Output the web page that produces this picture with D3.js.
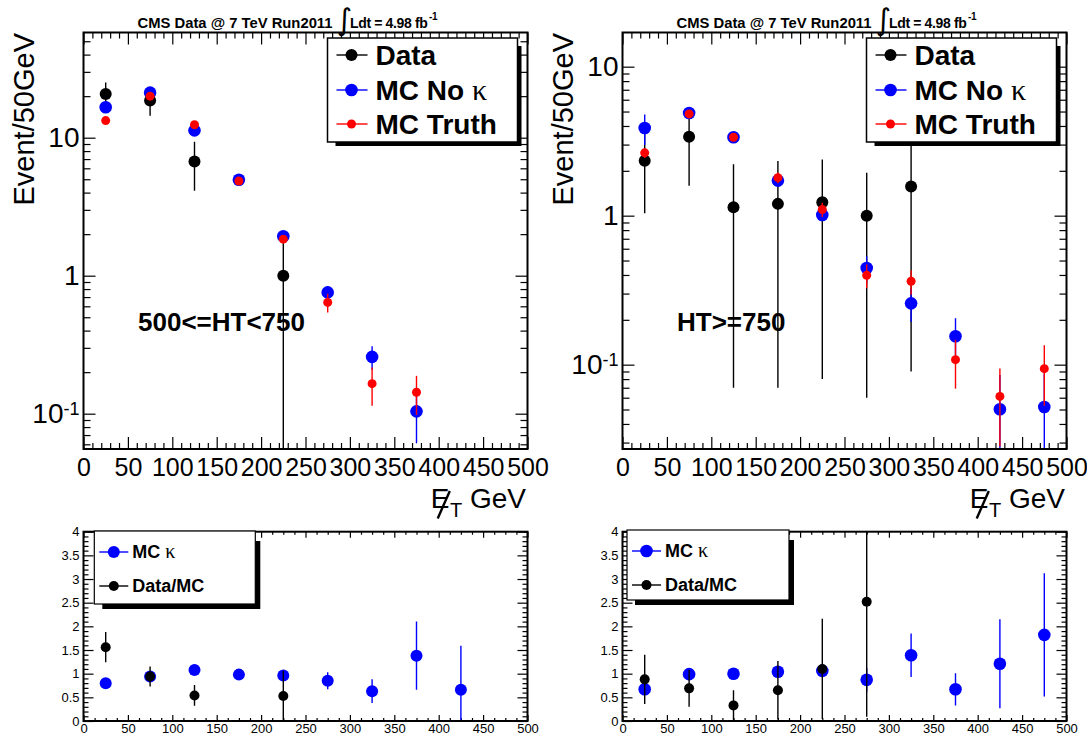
<!DOCTYPE html>
<html><head><meta charset="utf-8">
<script src="https://cdn.jsdelivr.net/npm/d3@7"></script>
<style>
body{margin:0;background:#fff;}
svg{display:block;font-family:"Liberation Sans",Arial,sans-serif;}
</style></head><body>
<svg id="c" width="1087" height="738"></svg>
<script>
// ---------------- DATA ----------------
const binCenters = [25, 75, 125, 175, 225, 275, 325, 375, 425, 475];
const xTickLabels = [0, 50, 100, 150, 200, 250, 300, 350, 400, 450, 500];
const ratioTickLabels = [0, 0.5, 1, 1.5, 2, 2.5, 3, 3.5, 4];
const logTickLabels = [0.1, 1, 10];

// Panel A : 500<=HT<750
const dataA       = [20.7, 18.6, 6.73, null, 1.0, null, null, null, null, null];
const dataAErr    = [4.4, 4.2, 2.6, null, 1.0, null, null, null, null, null];
const mcNoKA      = [16.6, 21.2, 11.3, 4.96, 1.93, 0.757, 0.258, 0.104, null, null];
const mcNoKAErr   = [0.8, 0.8, 0.5, 0.25, 0.12, 0.08, 0.05, 0.043, null, null];
const mcTruthA    = [13.3, 20.0, 12.4, 4.85, 1.84, 0.64, 0.165, 0.143, null, null];
const mcTruthAErr = [0.5, 0.6, 0.5, 0.2, 0.12, 0.1, 0.051, 0.045, null, null];

// Panel B : HT>=750
const dataB       = [2.34, 3.39, 1.14, 1.20, 1.23, 1.0, 1.57, null, null, null];
const dataBErr    = [1.3, 1.8, 1.07, 1.13, 1.15, 0.94, 1.48, null, null, null];
const mcNoKB      = [3.88, 4.89, 3.36, 1.72, 1.01, 0.445, 0.258, 0.155, 0.0502, 0.052];
const mcNoKBErr   = [0.9, 0.35, 0.1, 0.1, 0.08, 0.09, 0.065, 0.05, 0.035, 0.035];
const mcTruthB    = [2.64, 4.82, 3.36, 1.80, 1.10, 0.398, 0.363, 0.108, 0.0612, 0.094];
const mcTruthBErr = [0.2, 0.2, 0.15, 0.15, 0.12, 0.072, 0.068, 0.039, 0.033, 0.041];

// Ratio panels
const kappaA      = [0.80, 0.94, 1.08, 0.98, 0.96, 0.85, 0.63, 1.38, 0.66, null];
const kappaAErr   = [0.06, 0.08, 0.06, 0.05, 0.08, 0.18, 0.25, 0.72, 0.93, null];
const ratioA      = [1.56, 0.94, 0.54, null, 0.53, null, null, null, null, null];
const ratioAErr   = [0.32, 0.21, 0.22, null, 0.53, null, null, null, null, null];
const kappaB      = [0.67, 0.99, 1.0, 1.04, 1.06, 0.87, 1.39, 0.67, 1.21, 1.82];
const kappaBErr   = [0.1, 0.1, 0.05, 0.05, 0.05, 0.25, 0.46, 0.34, 0.94, 1.3];
const ratioB      = [0.88, 0.69, 0.33, 0.65, 1.10, 2.52, null, null, null, null];
const ratioBErr   = [0.52, 0.39, 0.32, 0.62, 1.06, 2.43, null, null, null, null];

const titleMain = "CMS Data @ 7 TeV Run2011";
const titleLumi = "Ldt = 4.98 fb";
const titleLumiExp = "-1";
const legendTop = ["Data", "MC No ", "MC Truth"];
const legendBottom = ["MC ", "Data/MC"];
const htLabels = ["500<=HT<750", "HT>=750"];

// ---------------- LAYOUT ----------------
const svg = d3.select("#c");
const BLUE = "#0000ff", RED = "#ff0000", BLACK = "#000000";

const topPanels = [
  {x0: 83.5, x1: 527.5, y0: 32.5, y1: 449, dom: [0.05548, 57.85], ht: htLabels[0],
   series: [[dataA, dataAErr, BLACK, 6], [mcNoKA, mcNoKAErr, BLUE, 6.3], [mcTruthA, mcTruthAErr, RED, 4.5]]},
  {x0: 622.5, x1: 1066.5, y0: 32.5, y1: 449, dom: [0.02716, 16.96], ht: htLabels[1],
   series: [[dataB, dataBErr, BLACK, 6], [mcNoKB, mcNoKBErr, BLUE, 6.3], [mcTruthB, mcTruthBErr, RED, 4.5]]}
];
const botPanels = [
  {x0: 83.5, x1: 527.5, y0: 531.7, y1: 721, leg: {x: 94.3, y: 531, w: 161, h: 73},
   series: [[kappaA, kappaAErr, BLUE, 6], [ratioA, ratioAErr, BLACK, 5]]},
  {x0: 622.5, x1: 1066.5, y0: 531.7, y1: 721, leg: {x: 627, y: 530, w: 162, h: 70},
   series: [[kappaB, kappaBErr, BLUE, 6.3], [ratioB, ratioBErr, BLACK, 5]]}
];

let clipId = 0;
function makeClip(p) {
  const id = "clip" + (clipId++);
  svg.append("clipPath").attr("id", id).append("rect")
    .attr("x", p.x0).attr("y", p.y0).attr("width", p.x1 - p.x0).attr("height", p.y1 - p.y0);
  return id;
}

function drawSeries(g, x, y, vals, errs, color, r, bottomY) {
  const pts = binCenters.map((c, i) => ({c, v: vals[i], e: errs[i]})).filter(d => d.v != null);
  g.selectAll(null).data(pts).join("line")
    .attr("x1", d => x(d.c)).attr("x2", d => x(d.c))
    .attr("y1", d => { const lo = d.v - d.e; return lo > 0 ? y(lo) : bottomY + 5; })
    .attr("y2", d => y(d.v + d.e))
    .attr("stroke", color).attr("stroke-width", 1.4);
  g.selectAll(null).data(pts).join("circle")
    .attr("cx", d => x(d.c)).attr("cy", d => y(d.v)).attr("r", r).attr("fill", color);
}

function styleAxis(sel) {
  sel.select(".domain").remove();
  sel.selectAll(".tick line").attr("stroke", "#000").attr("stroke-width", 1.2);
}

// ---------------- TOP PANELS ----------------
topPanels.forEach(p => {
  const x = d3.scaleLinear().domain([0, 500]).range([p.x0, p.x1]);
  const y = d3.scaleLog().domain(p.dom).range([p.y1, p.y0]);
  const g = svg.append("g");

  const xMinor = d3.range(0, 501, 10).filter(v => v % 50 !== 0);
  const yMinor = [];
  for (let e = -2; e <= 1; e++) for (let k = 2; k <= 9; k++) {
    const v = k * Math.pow(10, e);
    if (v > p.dom[0] && v < p.dom[1]) yMinor.push(v);
  }

  g.append("g").attr("transform", `translate(0,${p.y1})`)
    .call(d3.axisBottom(x).tickValues(xTickLabels).tickSize(-12).tickPadding(9.5).tickFormat(d3.format("d")))
    .call(styleAxis)
    .call(s => s.selectAll("text").attr("font-size", 25).attr("fill", "#000")
      .attr("font-family", "Liberation Sans, Arial, sans-serif"));
  g.append("g").attr("transform", `translate(0,${p.y1})`)
    .call(d3.axisBottom(x).tickValues(xMinor).tickSize(-6).tickFormat(""))
    .call(styleAxis);
  g.append("g").attr("transform", `translate(0,${p.y0})`)
    .call(d3.axisTop(x).tickValues(xTickLabels).tickSize(-12).tickFormat(""))
    .call(styleAxis);
  g.append("g").attr("transform", `translate(0,${p.y0})`)
    .call(d3.axisTop(x).tickValues(xMinor).tickSize(-6).tickFormat(""))
    .call(styleAxis);
  g.append("g").attr("transform", `translate(${p.x0},0)`)
    .call(d3.axisLeft(y).tickValues(logTickLabels.filter(v => v > p.dom[0] && v < p.dom[1])).tickSize(-12).tickPadding(4).tickFormat(d => d))
    .call(styleAxis)
    .call(s => s.selectAll("text").attr("font-size", 28).attr("fill", "#000")
      .attr("font-family", "Liberation Sans, Arial, sans-serif")
      .each(function(d) {
        const t = d3.select(this);
        if (d < 1) {
          t.text("10");
          t.append("tspan").attr("dy", "-0.45em").attr("font-size", 18).text("-1");
        } else {
          t.text(d >= 10 ? "10" : "1");
        }
      }));
  g.append("g").attr("transform", `translate(${p.x0},0)`)
    .call(d3.axisLeft(y).tickValues(yMinor).tickSize(-7).tickFormat(""))
    .call(styleAxis);
  g.append("g").attr("transform", `translate(${p.x1},0)`)
    .call(d3.axisRight(y).tickValues(logTickLabels).tickSize(-12).tickFormat(""))
    .call(styleAxis);
  g.append("g").attr("transform", `translate(${p.x1},0)`)
    .call(d3.axisRight(y).tickValues(yMinor).tickSize(-7).tickFormat(""))
    .call(styleAxis);

  const cid = makeClip(p);
  const dg = svg.append("g").attr("clip-path", `url(#${cid})`);
  p.series.forEach(s => drawSeries(dg, x, y, s[0], s[1], s[2], s[3], p.y1));

  svg.append("rect").attr("x", p.x0).attr("y", p.y0).attr("width", p.x1 - p.x0).attr("height", p.y1 - p.y0)
    .attr("fill", "none").attr("stroke", "#000").attr("stroke-width", 2);

  // title
  svg.append("text").attr("x", p.x0 + 54).attr("y", 28).attr("font-size", 15).attr("font-weight", "bold")
    .attr("textLength", 195).attr("lengthAdjust", "spacingAndGlyphs").text(titleMain);
  svg.append("text").attr("x", p.x0 + 253).attr("y", 30).attr("font-size", 30)
    .attr("font-family", "DejaVu Sans").text("\u222B");
  const lum = svg.append("text").attr("x", p.x0 + 266.5).attr("y", 28).attr("font-size", 14).attr("font-weight", "bold")
    .attr("letter-spacing", -0.35).text(titleLumi);
  lum.append("tspan").attr("dx", 1.5).attr("dy", -8).attr("font-size", 10).text(titleLumiExp);

  svg.append("text").attr("transform", `translate(${p.x0 - 50},33) rotate(-90)`)
    .attr("text-anchor", "end").attr("font-size", 29).text("Event/50GeV");

  const bx = p.x1;
  svg.append("text").attr("x", bx - 96.7).attr("y", 508).attr("font-size", 28).text("E");
  svg.append("text").attr("x", bx - 77.5).attr("y", 517).attr("font-size", 20).text("T");
  svg.append("line").attr("x1", bx - 77.7).attr("y1", 491).attr("x2", bx - 89.8).attr("y2", 518.5)
    .attr("stroke", "#000").attr("stroke-width", 2.4);
  svg.append("text").attr("x", bx - 1.5).attr("y", 508).attr("text-anchor", "end").attr("font-size", 28).text("GeV");

  svg.append("text").attr("x", p.x0 + 54.5).attr("y", 330.5).attr("font-size", 26).attr("font-weight", "bold").text(p.ht);

  const L = {x: p.x1 - 200, y: 38, w: 190, h: 104};
  svg.append("rect").attr("x", L.x + 8).attr("y", L.y + 8).attr("width", L.w - 4).attr("height", L.h - 4).attr("fill", "#000");
  svg.append("rect").attr("x", L.x).attr("y", L.y).attr("width", L.w).attr("height", L.h)
    .attr("fill", "#fff").attr("stroke", "#000").attr("stroke-width", 1.5);
  const ly = [55, 90, 124];
  p.series.forEach((s, i) => {
    svg.append("line").attr("x1", p.x1 - 191).attr("x2", p.x1 - 160).attr("y1", ly[i]).attr("y2", ly[i])
      .attr("stroke", s[2]).attr("stroke-width", 1.4);
    svg.append("circle").attr("cx", p.x1 - 176).attr("cy", ly[i]).attr("r", s[3]).attr("fill", s[2]);
    const t = svg.append("text").attr("x", p.x1 - 152).attr("y", ly[i] + 10).attr("font-size", 28).attr("font-weight", "bold")
      .text(legendTop[i]);
    if (i === 1) t.append("tspan").attr("font-family", "Liberation Serif, serif").attr("font-weight", "normal")
      .attr("font-size", 30).text("\u03BA");
  });
});

// ---------------- RATIO PANELS ----------------
botPanels.forEach(p => {
  const x = d3.scaleLinear().domain([0, 500]).range([p.x0, p.x1]);
  const y = d3.scaleLinear().domain([0, 4]).range([p.y1, p.y0]);
  const g = svg.append("g");
  const xMinor = d3.range(0, 500.1, 12.5).filter(v => v % 50 !== 0);
  const yMinor = d3.range(0, 4.001, 0.1).map(v => +v.toFixed(1)).filter(v => Math.abs(v * 2 - Math.round(v * 2)) > 1e-6);

  g.append("g").attr("transform", `translate(0,${p.y1})`)
    .call(d3.axisBottom(x).tickValues(xTickLabels).tickSize(-6).tickPadding(3).tickFormat(d3.format("d")))
    .call(styleAxis)
    .call(s => s.selectAll("text").attr("font-size", 13).attr("fill", "#000")
      .attr("font-family", "Liberation Sans, Arial, sans-serif"));
  g.append("g").attr("transform", `translate(0,${p.y1})`)
    .call(d3.axisBottom(x).tickValues(xMinor).tickSize(-3).tickFormat("")).call(styleAxis);
  g.append("g").attr("transform", `translate(0,${p.y0})`)
    .call(d3.axisTop(x).tickValues(xTickLabels).tickSize(-6).tickFormat("")).call(styleAxis);
  g.append("g").attr("transform", `translate(0,${p.y0})`)
    .call(d3.axisTop(x).tickValues(xMinor).tickSize(-3).tickFormat("")).call(styleAxis);
  g.append("g").attr("transform", `translate(${p.x0},0)`)
    .call(d3.axisLeft(y).tickValues(ratioTickLabels).tickSize(-10).tickPadding(4).tickFormat(d => String(d)))
    .call(styleAxis)
    .call(s => s.selectAll("text").attr("font-size", 13).attr("fill", "#000")
      .attr("font-family", "Liberation Sans, Arial, sans-serif"));
  g.append("g").attr("transform", `translate(${p.x0},0)`)
    .call(d3.axisLeft(y).tickValues(yMinor).tickSize(-5).tickFormat("")).call(styleAxis);
  g.append("g").attr("transform", `translate(${p.x1},0)`)
    .call(d3.axisRight(y).tickValues(ratioTickLabels).tickSize(-10).tickFormat("")).call(styleAxis);
  g.append("g").attr("transform", `translate(${p.x1},0)`)
    .call(d3.axisRight(y).tickValues(yMinor).tickSize(-5).tickFormat("")).call(styleAxis);

  const cid = makeClip(p);
  const dg = svg.append("g").attr("clip-path", `url(#${cid})`);
  p.series.forEach(s => drawSeries(dg, x, y, s[0], s[1], s[2], s[3], p.y1));

  svg.append("rect").attr("x", p.x0).attr("y", p.y0).attr("width", p.x1 - p.x0).attr("height", p.y1 - p.y0)
    .attr("fill", "none").attr("stroke", "#000").attr("stroke-width", 2);

  const L = p.leg;
  svg.append("rect").attr("x", L.x + 8).attr("y", L.y + 10).attr("width", L.w - 3).attr("height", L.h - 5).attr("fill", "#000");
  svg.append("rect").attr("x", L.x).attr("y", L.y).attr("width", L.w).attr("height", L.h)
    .attr("fill", "#fff").attr("stroke", "#000").attr("stroke-width", 1.2);
  const ly = [L.y + 21, L.y + 55];
  p.series.forEach((s, i) => {
    svg.append("line").attr("x1", L.x + 5).attr("x2", L.x + 34).attr("y1", ly[i]).attr("y2", ly[i])
      .attr("stroke", s[2]).attr("stroke-width", 1.4);
    svg.append("circle").attr("cx", L.x + 19.5).attr("cy", ly[i]).attr("r", s[3]).attr("fill", s[2]);
    const t = svg.append("text").attr("x", L.x + 38).attr("y", ly[i] + 6).attr("font-size", 18).attr("font-weight", "bold")
      .text(legendBottom[i]);
    if (i === 0) t.append("tspan").attr("font-family", "Liberation Serif, serif").attr("font-weight", "normal")
      .attr("font-size", 20).text("\u03BA");
  });
});
</script>
</body></html>
